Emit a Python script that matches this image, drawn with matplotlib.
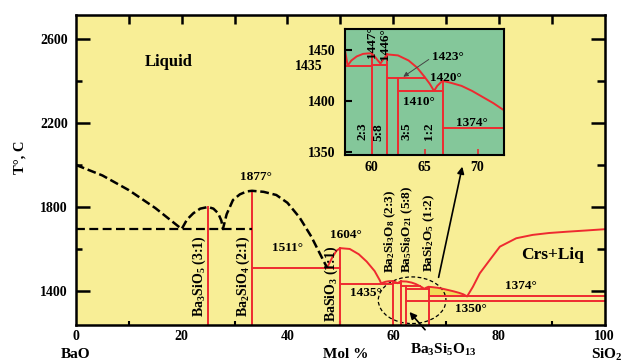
import numpy as np
import matplotlib.pyplot as plt
from matplotlib.patches import Ellipse

plt.rcParams['font.family'] = ['Liberation Serif', 'DejaVu Serif']
plt.rcParams['font.weight'] = 'bold'
plt.rcParams['mathtext.fontset'] = 'custom'
plt.rcParams['mathtext.rm'] = 'Liberation Serif:bold'
plt.rcParams['mathtext.bf'] = 'Liberation Serif:bold'
plt.rcParams['mathtext.default'] = 'rm'

# BaO-SiO2 phase diagram, mol % SiO2 vs temperature
# black (dashed) liquidus on the BaO-rich side
black_x = [0, 5, 10, 15, 20, 21, 22.2, 23.5, 25, 26, 26.9, 27.5, 27.8,
           28.5, 29.7, 31, 32.3, 33.3, 35.5, 37.9, 40, 42.3, 44.5, 45.8, 47.5]
black_t = [2000, 1950, 1880, 1795, 1695, 1740, 1770, 1792, 1800, 1792, 1770, 1735, 1695,
           1765, 1833, 1860, 1874, 1877, 1872, 1857, 1820, 1750, 1660, 1595, 1511]
black_eut_t = 1695
black_eut_x = [0, 33.3]

# red liquidus from BaSiO3 to SiO2
red_x = [47.5, 48.5, 49.3, 50, 51.8, 53.5, 55, 56.5, 57.5, 57.75, 58.1, 58.6, 59.2, 59.7, 60,
         60.3, 60.6, 60.85, 61.1, 61.5, 62.5, 63.5, 64.3, 65, 65.5, 65.9, 66.2, 66.7,
         67.5, 68.5, 69.5, 70.5, 71.5, 72.5, 73.3, 74, 75.1, 76.4, 78.3, 80.2, 83.3,
         86.4, 89.5, 92.8, 96.5, 100]
red_t = [1511, 1560, 1592, 1604, 1600, 1575, 1540, 1495, 1450, 1435, 1440, 1444, 1446.5, 1447, 1447,
         1444, 1440, 1437, 1441, 1446, 1445, 1440, 1433, 1424, 1417, 1410, 1415, 1420,
         1418, 1415, 1410, 1404, 1398, 1391, 1384, 1374, 1420, 1484, 1548, 1611, 1651,
         1667, 1676, 1682, 1688, 1694]

# compounds: composition and melting point
comp_x = [25, 33.3, 50, 60, 61.5, 62.5, 66.7]
comp_top = [1800, 1877, 1604, 1447, 1446, 1423, 1420]

# isotherms (solidus lines)
iso_t = [1511, 1435, 1436, 1423, 1410, 1374, 1350]
iso_x0 = [33.3, 50, 60, 61.5, 62.5, 66.7, 62.5]
iso_x1 = [50, 60, 61.5, 65.05, 66.7, 100, 100]

YELLOW = '#F8EE96'
GREEN = '#84C79A'
RED = '#EE2A30'


def draw_diagram(a, inset=False):
    for x, top in zip(comp_x, comp_top):
        a.plot([x, x], [1000, top], color=RED, lw=1.4)
    for t, x0, x1 in zip(iso_t, iso_x0, iso_x1):
        if inset and t == 1350:
            continue
        a.plot([x0, x1], [t, t], color=RED, lw=1.4)
    a.plot(red_x, red_t, color=RED, lw=1.4)


fig = plt.figure(figsize=(6.24, 3.63), dpi=100)
ax = fig.add_axes([76 / 624, 1 - 325 / 363, 528.5 / 624, 310 / 363])
ax.set_facecolor(YELLOW)
ax.set_xlim(0, 100)
ax.set_ylim(1238, 2714)

# darker patch between the 1:2 liquidus and the 1374 eutectic
sel = [i for i, x in enumerate(red_x) if 66.7 <= x <= 74]
ax.fill_between([red_x[i] for i in sel], 1374, [red_t[i] for i in sel],
                color='#F2DC58', lw=0)

draw_diagram(ax)
ax.plot(black_x, black_t, color='black', lw=1.8, dashes=(3.5, 1.5))
ax.plot(black_eut_x, [black_eut_t, black_eut_t], color='black', lw=1.6, dashes=(4, 2))

for s in ax.spines.values():
    s.set_linewidth(1.8)

ax.set_xticks([0, 20, 40, 60, 80, 100])
ax.set_xticks([10, 30, 50, 70, 90], minor=True)
ax.set_yticks([1400, 1800, 2200, 2600])
ax.set_yticks([1600, 2000, 2400], minor=True)
ax.tick_params(axis='x', which='major', length=0, pad=3.5, labelsize=10)
ax.tick_params(axis='x', which='minor', length=3, width=1.5, direction='in')
ax.tick_params(axis='y', which='major', length=10, width=1.8, direction='in', pad=6, labelsize=10)
ax.tick_params(axis='y', which='minor', length=4.5, width=1.8, direction='in')

top = ax.secondary_xaxis('top')
top.set_xticks(np.arange(10, 100, 10))
top.set_xticklabels([])
top.tick_params(length=6.5, width=1.8, direction='in')
right = ax.secondary_yaxis('right')
right.set_yticks([1400, 1800, 2200, 2600])
right.set_yticks([1600, 2000, 2400], minor=True)
right.set_yticklabels([])
right.tick_params(which='major', length=10, width=1.8, direction='in')
right.tick_params(which='minor', length=6, width=1.8, direction='in')

# labels on the main diagram
ax.text(17.5, 2490, 'Liquid', fontsize=12, ha='center', va='center')
ax.text(90.1, 1571, 'Crs+Liq', fontsize=12.5, ha='center', va='center')
deg_labels = [(34.1, 1943, '1877°'), (40.1, 1603, '1511°'), (51.0, 1667, '1604°'),
              (54.8, 1389, '1435°'), (74.8, 1313, '1350°'), (84.1, 1424, '1374°')]
for x, y, s in deg_labels:
    ax.text(x, y, s, fontsize=9.5, ha='center', va='center')

comp_labels = [(23.4, 1278, r'Ba$_3$SiO$_5$ (3:1)', 10), (31.6, 1278, r'Ba$_2$SiO$_4$ (2:1)', 10),
               (48.3, 1254, r'BaSiO$_3$ (1:1)', 10), (59.5, 1486, r'Ba$_2$Si$_3$O$_8$ (2:3)', 9.5),
               (62.7, 1486, r'Ba$_5$Si$_8$O$_{21}$ (5:8)', 9.5), (66.9, 1490, r'BaSi$_2$O$_5$ (1:2)', 9.5)]
for x, y, s, fs in comp_labels:
    ax.text(x, y, s, fontsize=fs, rotation=90, ha='center', va='bottom')

ax.add_patch(Ellipse((63.6, 1356), 12.8, 222, fill=False, ls=(0, (3, 2)), lw=0.9, color='black'))
ax.annotate('', xy=(73.2, 2005), xytext=(68.5, 1452),
            arrowprops=dict(arrowstyle='-|>', color='black', lw=1.2, mutation_scale=10))
ax.annotate(r'Ba$_3$Si$_5$O$_{13}$', xy=(63.1, 1300), xytext=(69.4, 1119),
            fontsize=11, ha='center', va='center', annotation_clip=False,
            arrowprops=dict(arrowstyle='-|>', color='black', lw=1.2, mutation_scale=10,
                            shrinkA=9, shrinkB=0))

fig.text(20 / 624, 1 - 157 / 363, 'T°, C', fontsize=10.5, rotation=90, ha='center', va='center')
fig.text(76 / 624, 1 - 355 / 363, 'BaO', fontsize=11, ha='center', va='center')
fig.text(346 / 624, 1 - 355 / 363, 'Mol %', fontsize=11, ha='center', va='center')
fig.text(607 / 624, 1 - 355 / 363, r'SiO$_2$', fontsize=11, ha='center', va='center')

# enlarged view of the 2:3 - 1:2 region
axin = fig.add_axes([345 / 624, 1 - 155 / 363, 159 / 624, 126 / 363])
axin.set_facecolor(GREEN)
axin.set_xlim(57.5, 72.5)
axin.set_ylim(1347, 1471)
draw_diagram(axin, inset=True)
for s in axin.spines.values():
    s.set_linewidth(1.5)
axin.set_xticks([60, 65, 70])
axin.set_yticks([1350, 1400, 1450])
axin.tick_params(axis='x', length=4, width=1.2, color=RED, direction='in', pad=4, labelsize=10)
axin.tick_params(axis='y', length=5, width=1.5, direction='in', pad=7, labelsize=10)
fig.text(323 / 624, 1 - 66 / 363, '1435', fontsize=10, ha='right', va='center')

axin.text(60.0, 1458, '1447°', fontsize=9.5, rotation=90, ha='center', va='center')
axin.text(61.3, 1456, '1446°', fontsize=9.5, rotation=90, ha='center', va='center')
axin.text(65.7, 1443, '1423°', fontsize=9.5, ha='left', va='center')
axin.annotate('', xy=(63.0, 1424), xytext=(65.4, 1441),
              arrowprops=dict(arrowstyle='-|>', color='#444444', lw=0.7, mutation_scale=7,
                              shrinkA=0, shrinkB=0))
for x, y, s in [(67.0, 1423, '1420°'), (64.45, 1399, '1410°'), (69.45, 1378.5, '1374°')]:
    axin.text(x, y, s, fontsize=9.5, ha='center', va='center')
for x, s in [(59.17, '2:3'), (60.65, '5:8'), (63.3, '3:5'), (65.45, '1:2')]:
    axin.text(x, 1370, s, fontsize=9.5, rotation=90, ha='center', va='center')

fig.savefig('out.png', dpi=100)
